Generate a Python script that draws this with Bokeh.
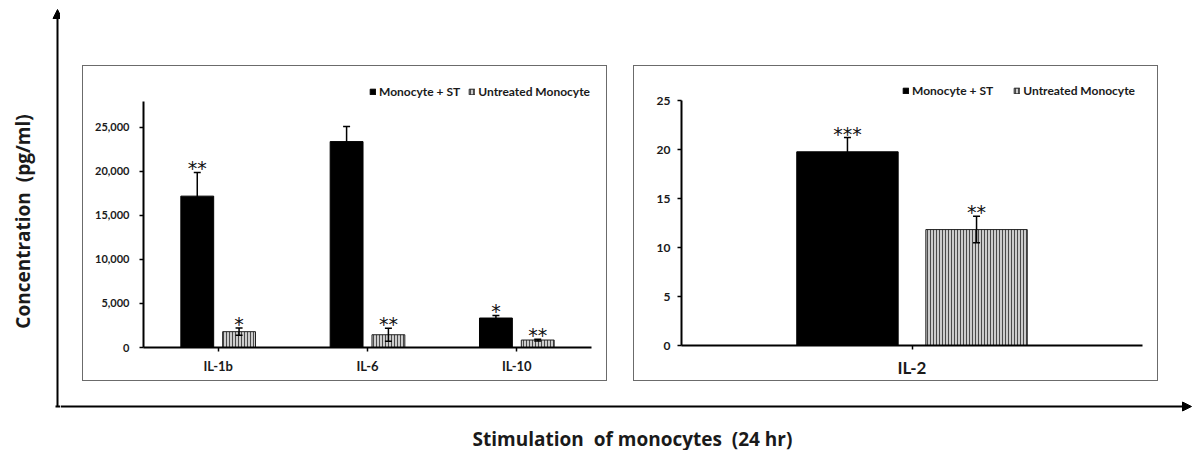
from math import pi
from bokeh.plotting import figure
from bokeh.layouts import row, column
from bokeh.models import (FactorRange, Range1d, Whisker, TeeHead, ColumnDataSource,
                          Legend, LegendItem, Arrow, NormalHead, Label, FixedTicker,
                          NumeralTickFormatter, Spacer)
from bokeh.transform import dodge
from bokeh.core.properties import value
from bokeh.embed import file_html
from bokeh.resources import INLINE

# ---------------- data ----------------
cytokines = ["IL-1b", "IL-6", "IL-10"]
stimulated = [17200, 23400, 3350]
stimulated_err = [2700, 1700, 300]
stimulated_sig = ["**", "", "*"]
untreated = [1800, 1450, 850]
untreated_err = [420, 750, 100]
untreated_sig = ["*", "**", "**"]

il2_category = ["IL-2"]
il2_stimulated = [19.8]
il2_stimulated_err = [1.45]
il2_stimulated_sig = ["***"]
il2_untreated = [11.85]
il2_untreated_err = [1.35]
il2_untreated_sig = ["**"]

left_ticks = [0, 5000, 10000, 15000, 20000, 25000]
right_ticks = [0, 5, 10, 15, 20, 25]

series_names = ["Monocyte + ST", "Untreated Monocyte"]
x_title = "Stimulation\u00a0 of monocytes\u00a0 (24 hr)"
y_title = "Concentration\u00a0 (pg/ml)"

FONT = "Lato"
TITLE_FONT = "Open Sans"
TXT = "#1a1a1a"
BOX = "#6b6b6b"
PW, PH = 523, 314


def make_panel(cats, s_val, s_err, s_sig, u_val, u_err, u_sig, ticks, y_end, axis_top,
               borders, tick_size, tick_standoff, cat_size, cat_standoff, fmt,
               legend_loc, legend_spacing):
    bl, br, bt, bb = borders
    p = figure(width=PW, height=PH, x_range=FactorRange(factors=cats, range_padding=0),
               y_range=Range1d(0, y_end), output_backend="svg", toolbar_location=None,
               min_border_left=bl, min_border_right=br, min_border_top=bt,
               min_border_bottom=bb)
    p.outline_line_color = None
    p.xgrid.grid_line_color = None
    p.ygrid.grid_line_color = None

    def src(vals, errs, sig):
        return ColumnDataSource(dict(cat=cats, val=vals,
                                     up=[v + e for v, e in zip(vals, errs)],
                                     lo=[v - e for v, e in zip(vals, errs)],
                                     sig=sig))

    s_src = src(s_val, s_err, s_sig)
    u_src = src(u_val, u_err, u_sig)
    xs = dodge("cat", -0.14, range=p.x_range)
    xu = dodge("cat", 0.14, range=p.x_range)

    r1 = p.vbar(x=xs, top="val", width=0.22, source=s_src, fill_color="black",
                line_color="black", line_width=1)
    r2 = p.vbar(x=xu, top="val", width=0.22, source=u_src, fill_color="#cccccc",
                line_color="#222222", line_width=1, hatch_pattern="vertical_line",
                hatch_color="#4a4a4a", hatch_scale=3, hatch_weight=1)

    for base, s in ((xs, s_src), (xu, u_src)):
        w = Whisker(source=s, base=base, upper="up", lower="lo", line_color="black",
                    line_width=1.5,
                    upper_head=TeeHead(size=7, line_color="black", line_width=1.5),
                    lower_head=TeeHead(size=7, line_color="black", line_width=1.5))
        w.level = "annotation"
        p.add_layout(w)
        p.text(x=base, y="up", text="sig", source=s, text_align="center",
               text_baseline="alphabetic", text_font=value("DejaVu Sans"),
               text_font_size="19px", text_color="#111111", y_offset=-4)

    legend = Legend(items=[LegendItem(label=series_names[0], renderers=[r1]),
                           LegendItem(label=series_names[1], renderers=[r2])],
                    orientation="horizontal", location=legend_loc, padding=0, margin=0,
                    spacing=legend_spacing, glyph_width=7, glyph_height=7,
                    label_standoff=3, label_height=12, label_text_font=FONT,
                    label_text_font_size="12px", label_text_font_style="bold",
                    label_text_color=TXT, border_line_color=None,
                    background_fill_alpha=0)
    p.add_layout(legend)

    ya = p.yaxis[0]
    ya.ticker = FixedTicker(ticks=ticks)
    ya.bounds = (0, axis_top)
    ya.formatter = fmt
    ya.major_tick_in = 0
    ya.major_tick_out = 4
    ya.minor_tick_in = 0
    ya.minor_tick_out = 0
    ya.axis_line_width = 2
    ya.major_tick_line_width = 1.5
    ya.major_label_text_font = FONT
    ya.major_label_text_font_style = "bold"
    ya.major_label_text_font_size = tick_size
    ya.major_label_text_color = TXT
    ya.major_label_standoff = tick_standoff

    xa = p.xaxis[0]
    xa.major_tick_in = 0
    xa.major_tick_out = 4
    xa.axis_line_width = 2
    xa.major_tick_line_width = 1.5
    xa.major_label_text_font = FONT
    xa.major_label_text_font_style = "bold"
    xa.major_label_text_font_size = cat_size
    xa.major_label_text_color = TXT
    xa.major_label_standoff = cat_standoff
    return p


def boxed(p):
    """Surround a panel with a thin grey frame made of 1px layout strips."""
    def hl():
        return Spacer(width=PW + 2, height=1, styles={"background-color": BOX})

    def vl():
        return Spacer(width=1, height=PH, styles={"background-color": BOX})

    return column(hl(), row(vl(), p, vl()), hl())


p1 = make_panel(cytokines, stimulated, stimulated_err, stimulated_sig,
                untreated, untreated_err, untreated_sig, left_ticks,
                y_end=30909, axis_top=28000, borders=(60, 15, 9, 33),
                tick_size="11px", tick_standoff=10, cat_size="13px", cat_standoff=6,
                fmt=NumeralTickFormatter(format="0,0"), legend_loc=(226, 248),
                legend_spacing=8)

p2 = make_panel(il2_category, il2_stimulated, il2_stimulated_err, il2_stimulated_sig,
                il2_untreated, il2_untreated_err, il2_untreated_sig, right_ticks,
                y_end=27.6, axis_top=25, borders=(47, 15, 9, 35),
                tick_size="12px", tick_standoff=7, cat_size="17px", cat_standoff=7,
                fmt=NumeralTickFormatter(format="0"), legend_loc=(221, 247),
                legend_spacing=20)

# ---------------- decorations ----------------
def strip(w, h):
    s = figure(width=w, height=h, x_range=Range1d(0, w), y_range=Range1d(h, 0),
               x_axis_type=None, y_axis_type=None, output_backend="svg",
               toolbar_location=None, min_border=0, min_border_left=0,
               min_border_right=0, min_border_top=0, min_border_bottom=0)
    s.outline_line_color = None
    return s

left_strip = strip(60, 450)
left_strip.add_layout(Arrow(end=NormalHead(size=9, fill_color="black", line_color="black"),
                            x_start=57, y_start=406, x_end=57, y_end=9,
                            line_width=2, line_color="black"))
left_strip.segment(x0=[55], y0=[406], x1=[60], y1=[406], line_width=2, line_color="black")
left_strip.add_layout(Label(x=22, y=221, text=y_title, angle=pi / 2, text_align="center",
                            text_baseline="middle", text_font=TITLE_FONT,
                            text_font_style="bold", text_font_size="19px",
                            text_color=TXT))

bottom_strip = strip(1134, 55)
bottom_strip.add_layout(Arrow(end=NormalHead(size=9, fill_color="black", line_color="black"),
                              x_start=0, y_start=11, x_end=1131, y_end=11,
                              line_width=2, line_color="black"))
bottom_strip.add_layout(Label(x=572, y=43, text=x_title, text_align="center",
                              text_baseline="middle", text_font=TITLE_FONT,
                              text_font_style="bold", text_font_size="19px",
                              text_color=TXT))

panels = row(Spacer(width=22, height=316), boxed(p1), Spacer(width=26, height=316),
             boxed(p2), Spacer(width=36, height=316))
right_col = column(Spacer(width=1134, height=65), panels, Spacer(width=1134, height=14),
                   bottom_strip)
layout = row(left_strip, right_col)

open("out.html", "w").write(file_html(layout, INLINE))
